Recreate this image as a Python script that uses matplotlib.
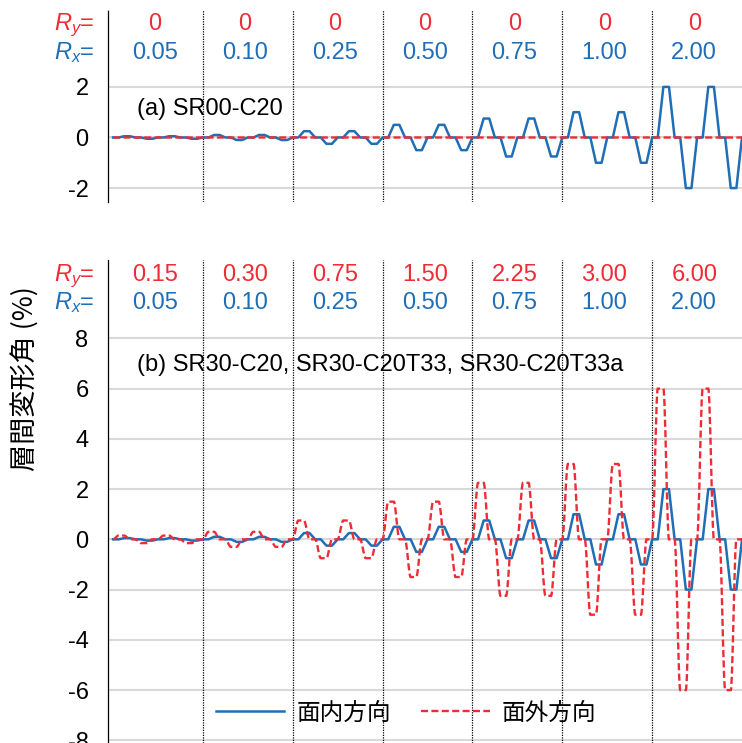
import matplotlib
matplotlib.use('Agg')
import matplotlib.pyplot as plt
import matplotlib.transforms as mtransforms
from matplotlib.path import Path
from matplotlib.patches import PathPatch
from matplotlib.lines import Line2D
import numpy as np

plt.rcParams['font.family'] = ['Liberation Sans', 'Noto Sans CJK JP']
plt.rcParams['mathtext.fontset'] = 'custom'
plt.rcParams['mathtext.rm'] = 'Liberation Sans'
plt.rcParams['mathtext.it'] = 'Liberation Sans:italic'
plt.rcParams['axes.unicode_minus'] = False

BLUE = '#1F6EB6'
RED = '#EE2C36'
GRID = '#D9D9D9'
FS = 17

# drift amplitude of each loading block (%)
rx_amp = [0.05, 0.10, 0.25, 0.50, 0.75, 1.00, 2.00]
ry_amp_a = [0, 0, 0, 0, 0, 0, 0]
ry_amp_b = [0.15, 0.30, 0.75, 1.50, 2.25, 3.00, 6.00]
rx_text = ['0.05', '0.10', '0.25', '0.50', '0.75', '1.00', '2.00']
ry_text_a = ['0', '0', '0', '0', '0', '0', '0']
ry_text_b = ['0.15', '0.30', '0.75', '1.50', '2.25', '3.00', '6.00']

# shape of one loading cycle (in-plane / out-of-plane), two cycles per block
cycle_in = [0, 0, 1, 1, 0, 0, -1, -1]
cycle_out = [0, 1, 1, 0, 0, -1, -1, 0]
n_cycles = 2
block_len = len(cycle_in) * n_cycles

W, H = 742, 743


def fx(px):
    return px / W


def fy(px):
    return 1 - px / H


def protocol(amps, shape):
    vals = []
    for a in amps:
        vals += [a * s for s in shape] * n_cycles
    vals.append(0)
    return np.array(vals, dtype=float)


def smooth_path(x, y):
    # smoothed line drawn as cubic Bezier pieces, slopes kept monotone
    # (flat at plateaus, so peaks do not overshoot)
    n = len(x)
    d = np.diff(y) / np.diff(x)
    m = np.zeros(n)
    for i in range(1, n - 1):
        if d[i - 1] * d[i] > 0:
            m[i] = 2 / (1 / d[i - 1] + 1 / d[i])
    verts = [(x[0], y[0])]
    codes = [Path.MOVETO]
    for i in range(n - 1):
        h = x[i + 1] - x[i]
        verts += [(x[i] + h / 3, y[i] + m[i] * h / 3),
                  (x[i + 1] - h / 3, y[i + 1] - m[i + 1] * h / 3),
                  (x[i + 1], y[i + 1])]
        codes += [Path.CURVE4] * 3
    return Path(verts, codes)


def draw_panel(ax, ry_amp, ry_text, ylim, yticks, title, title_y, head_y):
    y_in = protocol(rx_amp, cycle_in)
    y_out = protocol(ry_amp, cycle_out)
    t = np.arange(len(y_in))

    ax.plot(t, y_in, color=BLUE, lw=1.8, zorder=3)
    ax.add_patch(PathPatch(smooth_path(t, y_out), fill=False, edgecolor=RED,
                           lw=1.7, linestyle=(0, (3.0, 1.4)), zorder=4))

    ax.set_xlim(-0.89, len(rx_amp) * block_len)
    ax.set_ylim(*ylim)
    ax.set_xticks([])
    ax.set_yticks(yticks)
    ax.yaxis.grid(True, color=GRID, lw=1.5)
    ax.set_axisbelow(True)
    ax.tick_params(axis='y', length=0, pad=14, labelsize=FS)
    for side in ['top', 'right', 'bottom']:
        ax.spines[side].set_visible(False)
    ax.spines['left'].set_linestyle((0, (1, 1)))
    ax.spines['left'].set_linewidth(0.9)
    for k in range(1, len(rx_amp)):
        ax.axvline(k * block_len, color='black', lw=0.9, ls=(0, (1, 1)), zorder=2)

    # block headers
    trans = mtransforms.blended_transform_factory(ax.transData, fig.transFigure)
    fig.text(fx(95), fy(head_y[0]), '$R_y$=', color=RED, fontsize=FS,
             ha='right', va='baseline')
    fig.text(fx(95), fy(head_y[1]), '$R_x$=', color=BLUE, fontsize=FS,
             ha='right', va='baseline')
    for k in range(len(rx_amp)):
        xc = k * block_len + block_len / 2 - 0.5
        ax.text(xc, fy(head_y[0]), ry_text[k], transform=trans, color=RED,
                fontsize=FS, ha='center', va='baseline')
        ax.text(xc, fy(head_y[1]), rx_text[k], transform=trans, color=BLUE,
                fontsize=FS, ha='center', va='baseline')

    fig.text(fx(137), fy(title_y), title, fontsize=FS, ha='left', va='baseline')


fig = plt.figure(figsize=(W / 100, H / 100), dpi=100)
ax_a = fig.add_axes([fx(108), fy(202), 1 - fx(108), fy(10) - fy(202)])
ax_b = fig.add_axes([fx(108), 0, 1 - fx(108), fy(260)])

draw_panel(ax_a, ry_amp_a, ry_text_a, (-2.55, 5.04), [-2, 0, 2],
           '(a) SR00-C20', 115, (30, 58.7))
draw_panel(ax_b, ry_amp_b, ry_text_b, (-8.107, 11.12), list(range(-8, 9, 2)),
           '(b) SR30-C20, SR30-C20T33, SR30-C20T33a', 370.7, (280.7, 308.7))

fig.text(fx(26), fy(379), '層間変形角 (%)', rotation=90, fontsize=19.5,
         ha='center', va='center',
         family=['Noto Sans CJK JP', 'Liberation Sans'])

handles = [Line2D([], [], color=BLUE, lw=1.8),
           Line2D([], [], color=RED, lw=1.7, ls=(0, (3.0, 1.4)))]
fig.legend(handles, ['面内方向', '面外方向'], loc='center',
           bbox_to_anchor=(fx(406), fy(713)), ncol=2, frameon=False,
           handlelength=2.9, handletextpad=0.5, columnspacing=1.3,
           prop={'family': ['Noto Sans CJK JP'], 'size': FS})

fig.savefig('out.png', dpi=100)
